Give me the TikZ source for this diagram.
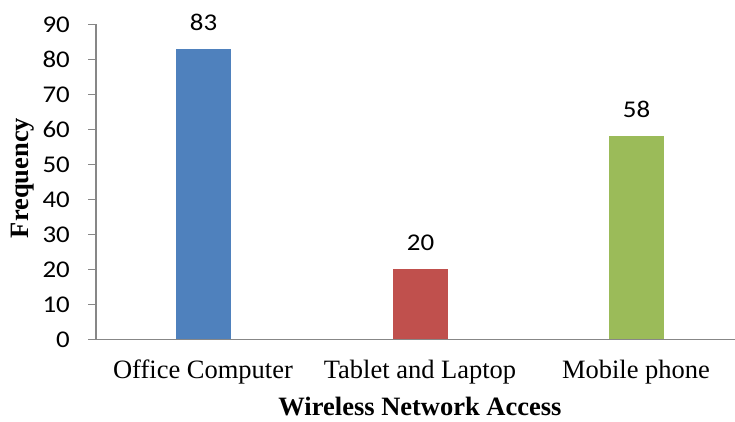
\documentclass[tikz,border=0pt]{standalone}
\usepackage{fontspec}
\setmainfont{Liberation Serif}
\newfontfamily\numfont[FakeStretch=1.12]{Carlito}
\definecolor{barblue}{HTML}{4F81BD}
\definecolor{barred}{HTML}{C0504D}
\definecolor{bargreen}{HTML}{9BBB59}
\definecolor{axisgray}{HTML}{878787}
\begin{document}
\begin{tikzpicture}[x=1pt,y=-1pt,
  axisline/.style={draw=axisgray,line width=1.5pt},
  ticklabel/.style={anchor=east,inner sep=0pt,font=\numfont\fontsize{24}{26}\selectfont},
  vallabel/.style={anchor=south,inner sep=0pt,font=\numfont\fontsize{24}{26}\selectfont},
  catlabel/.style={anchor=base,inner sep=0pt,font=\fontsize{26.5}{30}\selectfont},
  axtitle/.style={anchor=base,inner sep=0pt,font=\bfseries\fontsize{26.5}{30}\selectfont}]
\useasboundingbox (0,0) rectangle (735,421);
% plot frame: value v sits at y = 339.3 - 3.5 v
\coordinate (ytop) at (96,24.3);
\coordinate (origin) at (96,339.3);
\coordinate (xend) at (735,339.3);
% bars
\fill[barblue]  (176,339.3) rectangle (231,{339.3-3.5*83}) coordinate (b1);
\fill[barred]   (393,339.3) rectangle (448,{339.3-3.5*20}) coordinate (b2);
\fill[bargreen] (609,339.3) rectangle (664,{339.3-3.5*58}) coordinate (b3);
% axes and ticks
\draw[axisline] (ytop) -- (origin);
\draw[axisline] (88,339.3) -- (xend);
\foreach \v in {0,10,...,90}{
  \draw[axisline] (88,{339.3-3.5*\v}) -- (96,{339.3-3.5*\v});
  \node[ticklabel] (t\v) at (70,{339.3-3.5*\v}) {\v};
}
% value labels
\node[vallabel] (v1) at (203.5,{339.3-3.5*83-18}) {83};
\node[vallabel] (v2) at (420.5,{339.3-3.5*20-18}) {20};
\node[vallabel] (v3) at (636.5,{339.3-3.5*58-18}) {58};
% category labels
\node[catlabel] (c1) at (203,378) {Office Computer};
\node[catlabel] (c2) at (420,378) {Tablet and Laptop};
\node[catlabel] (c3) at (636,378) {Mobile phone};
% axis titles
\node[axtitle] (xt) at (420,415.5) {Wireless Network Access};
\node[axtitle,rotate=90] (yt) at (28.5,178) {Frequency};
\end{tikzpicture}
\end{document}
